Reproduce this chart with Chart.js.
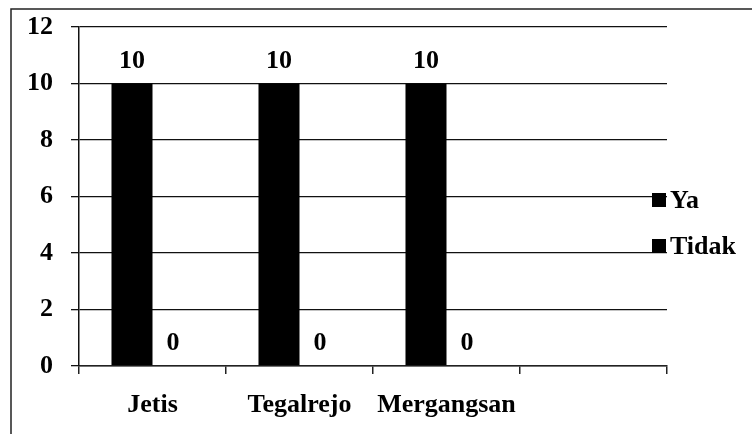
<!DOCTYPE html>
<html>
<head>
<meta charset="utf-8">
<script src="https://cdn.jsdelivr.net/npm/chart.js@4"></script>
<style>
  html, body { margin: 0; padding: 0; background: #fff; }
  #wrap { width: 752px; height: 434px; }
</style>
</head>
<body>
<div id="wrap"><canvas id="chart"></canvas></div>
<script>
// data
const categories = ['Jetis', 'Tegalrejo', 'Mergangsan', ''];
const yaValues = [10, 10, 10, null];
const tidakValues = [0, 0, 0, null];
const seriesNames = ['Ya', 'Tidak'];
const yTicks = [0, 2, 4, 6, 8, 10, 12];

const FONT = '"Liberation Serif", "Times New Roman", serif';
const FONT_SIZE = 26;

// outer frame (top + left edge only, like the scan)
const framePlugin = {
  id: 'frame',
  beforeDraw(chart) {
    const ctx = chart.ctx;
    ctx.save();
    ctx.strokeStyle = '#222';
    ctx.lineWidth = 1.5;
    ctx.beginPath();
    ctx.moveTo(752, 9);
    ctx.lineTo(11, 9);
    ctx.lineTo(11, 434);
    ctx.stroke();
    ctx.restore();
  }
};

// value labels above bars
const valueLabels = {
  id: 'valueLabels',
  afterDatasetsDraw(chart) {
    const ctx = chart.ctx;
    ctx.save();
    ctx.font = 'bold ' + FONT_SIZE + 'px ' + FONT;
    ctx.fillStyle = '#000';
    ctx.textAlign = 'center';
    ctx.textBaseline = 'alphabetic';
    chart.data.datasets.forEach((ds, i) => {
      chart.getDatasetMeta(i).data.forEach((bar, j) => {
        if (ds.data[j] == null) return;
        ctx.fillText(String(ds.data[j]), bar.x, bar.y - 16);
      });
    });
    ctx.restore();
  }
};

// legend sitting on the right end of the gridlines
const sideLegend = {
  id: 'sideLegend',
  afterDraw(chart) {
    const ctx = chart.ctx;
    const x = chart.chartArea.right - 15;
    const ys = [200, 246];
    ctx.save();
    ctx.font = 'bold ' + FONT_SIZE + 'px ' + FONT;
    ctx.textBaseline = 'middle';
    chart.data.datasets.forEach((ds, i) => {
      ctx.fillStyle = ds.backgroundColor;
      ctx.fillRect(x, ys[i] - 7, 14, 14);
      ctx.fillStyle = '#000';
      ctx.fillText(ds.label, x + 18, ys[i] + 1);
    });
    ctx.restore();
  }
};

const ctx = document.getElementById('chart').getContext('2d');
new Chart(ctx, {
  type: 'bar',
  data: {
    labels: categories,
    datasets: [
      { label: seriesNames[0], data: yaValues, backgroundColor: '#000' },
      { label: seriesNames[1], data: tidakValues, backgroundColor: '#000' }
    ]
  },
  options: {
    responsive: true,
    maintainAspectRatio: false,
    animation: false,
    layout: { padding: { top: 27, right: 85, left: 0, bottom: 0 } },
    datasets: { bar: { categoryPercentage: 0.558, barPercentage: 1 } },
    plugins: {
      legend: { display: false },
      tooltip: { enabled: false }
    },
    scales: {
      x: {
        grid: {
          offset: true,
          drawOnChartArea: false,
          drawTicks: true,
          tickLength: 8,
          color: '#222',
          lineWidth: 1.5
        },
        border: { display: true, color: '#222', width: 1.5 },
        ticks: {
          color: '#000',
          font: { family: FONT, size: FONT_SIZE, weight: 'bold' },
          padding: 16,
          maxRotation: 0
        },
        afterFit(scale) {
          scale.height = 68;
          scale.paddingLeft = 0;
          scale.paddingRight = 0;
        }
      },
      y: {
        min: 0,
        max: 12,
        afterBuildTicks(scale) { scale.ticks = yTicks.map(v => ({ value: v })); },
        grid: { color: '#111', lineWidth: 1.3, tickLength: 8 },
        border: { display: true, color: '#111', width: 1.5 },
        ticks: {
          color: '#000',
          font: { family: FONT, size: FONT_SIZE, weight: 'bold' },
          padding: 18
        },
        afterFit(scale) {
          scale.width = 79;
          scale.paddingTop = 0;
          scale.paddingBottom = 0;
        }
      }
    }
  },
  plugins: [framePlugin, valueLabels, sideLegend]
});
</script>
</body>
</html>
